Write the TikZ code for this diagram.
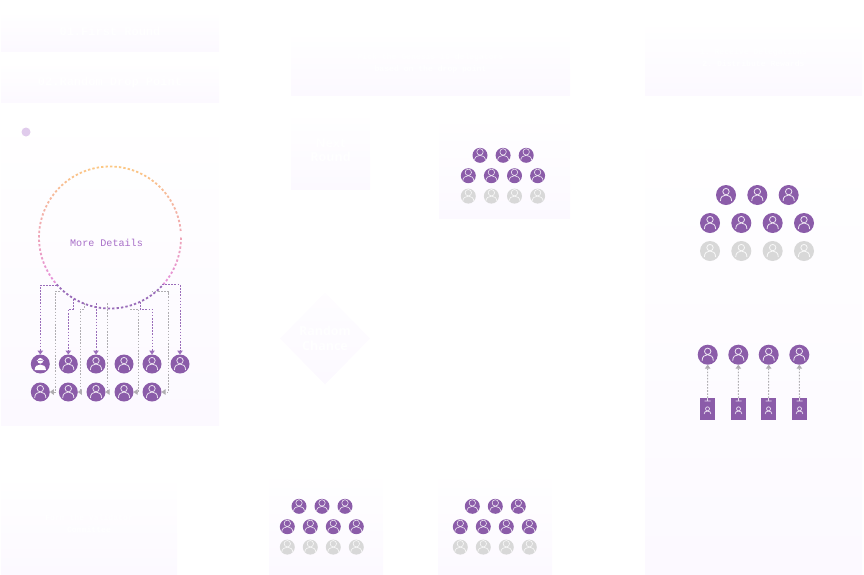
\documentclass[tikz,border=0pt]{standalone}
\usepackage{fontspec}
\setmonofont{Liberation Mono}
\setsansfont{Open Sans}
\usetikzlibrary{arrows.meta,shapes.geometric}

\definecolor{userpurple}{HTML}{8B5CA9}
\definecolor{usergray}{HTML}{D8D8D8}
\definecolor{panelend}{HTML}{FCF9FF}
\definecolor{ringorange}{HTML}{FCC784}
\definecolor{ringpink}{HTML}{E58FDC}
\definecolor{linkgray}{HTML}{B0AEB2}
\definecolor{linkpurple}{HTML}{9A6DBA}
\definecolor{labelpurple}{HTML}{A86FC8}
\definecolor{dotlilac}{HTML}{E0CBEC}
\definecolor{iconline}{HTML}{EADFF1}

\tikzset{
  panelbox/.style={rectangle,inner sep=0pt,outer sep=0pt,top color=white,bottom color=panelend,text=white,align=center},
  headtext/.style={font=\ttfamily\bfseries\fontsize{12}{14}\selectfont},
  smalltext/.style={font=\ttfamily\bfseries\fontsize{8.1}{12}\selectfont},
  bigtext/.style={font=\sffamily\bfseries\fontsize{12.5}{14.5}\selectfont},
  usernode/.style 2 args={circle,inner sep=0pt,outer sep=0pt,minimum size=20pt*#2,fill=#1,
    path picture={\draw[#1!15!white,line width=.8pt*#2,x=1pt,y=-1pt,shift={(path picture bounding box.center)},scale=#2]
      (0,-3.4) circle [radius=3.2]
      (-5.6,6) .. controls (-5.6,1.8) and (-3,0) .. (0,0) .. controls (3,0) and (5.6,1.8) .. (5.6,6);}},
  chiefnode/.style={circle,inner sep=0pt,outer sep=0pt,minimum size=19pt,fill=userpurple,
    path picture={\fill[white,x=1pt,y=-1pt,shift={(path picture bounding box.center)}]
      (0,-3.2) circle [radius=2.8]
      (-3.4,-3.8) rectangle (3.4,-3.1)
      (-5.6,6) .. controls (-5.6,2) and (-3,.6) .. (0,.6) .. controls (3,.6) and (5.6,2) .. (5.6,6) -- cycle;}},
  tagnode/.style={rectangle,inner sep=0pt,outer sep=0pt,minimum width=15pt,minimum height=22pt,fill=userpurple,
    path picture={\draw[iconline,line width=.7pt,x=1pt,y=-1pt,shift={(path picture bounding box.center)}]
      (0,-11) -- (0,-8) (-3,-8) -- (3,-8)
      (0,-.2) circle [radius=2]
      (-3.4,5) .. controls (-3.4,3) and (-2,2.1) .. (0,2.1) .. controls (2,2.1) and (3.4,3) .. (3.4,5);}},
  upath/.style={linkpurple,line width=1pt,dash pattern=on 1.6pt off 1.5pt,-{Triangle[length=4pt,width=5.5pt]}},
  gpath/.style={linkgray,line width=1pt,dash pattern=on 1.6pt off 1.5pt,-{Triangle[length=4pt,width=5.5pt]}}
}

\newcommand{\usergrid}[7]{
  \foreach \i in {0,1,2} \node[usernode={userpurple}{#7}] (#1a\i) at ({#2+\i*#4},#5) {};
  \foreach \i in {0,1,2,3} \node[usernode={userpurple}{#7}] (#1b\i) at ({#3+\i*#4},{#5+#6}) {};
  \foreach \i in {0,1,2,3} \node[usernode={usergray}{#7}] (#1c\i) at ({#3+\i*#4},{#5+2*#6}) {};
}

\begin{document}
\begin{tikzpicture}[x=1pt,y=-1pt]
  \useasboundingbox (0,0) rectangle (864,574);

  \node[panelbox,headtext,minimum width=218pt,minimum height=40pt] (firstround) at (110,31) {01.First Round};
  \node[panelbox,headtext,minimum width=218pt,minimum height=40pt] (dropoint) at (110,82) {02.Random Drop Point};
  \node[panelbox,minimum width=218pt,minimum height=315pt] (leftpanel) at (110,267.5) {};
  \node[panelbox,smalltext,minimum width=279pt,minimum height=64pt] (pickpanel) at (430.5,63) {Pick the Genesis 16 delegators\\based on the drop point};
  \node[panelbox,smalltext,minimum width=217pt,minimum height=75pt] (rewardpanel) at (753.5,57.5) {1. Receive Delegations\\2. Distribute Rewards};
  \node[panelbox,bigtext,minimum width=79pt,minimum height=78pt] (nextround) at (330.5,150) {Next\\Round};
  \node[panelbox,minimum width=131pt,minimum height=103pt] (gridone) at (504.5,166.5) {};
  \node[panelbox,minimum width=217pt,minimum height=464pt] (rightpanel) at (753.5,342) {};
  \node[panelbox,smalltext,minimum width=176pt,minimum height=100pt] (formpanel) at (89,524) {Form the Validator\\Committee};
  \node[panelbox,minimum width=114pt,minimum height=104pt] (gridtwo) at (326,522) {};
  \node[panelbox,minimum width=114pt,minimum height=104pt] (gridthree) at (495,522) {};
  \node[diamond,aspect=1,inner sep=0pt,outer sep=0pt,minimum width=90pt,minimum height=92pt,top color=panelend!40!white,bottom color=panelend,text=white,align=center,bigtext] (chance) at (325,338.5) {Random\\Chance};

  \node[circle,fill=dotlilac,inner sep=0pt,minimum size=9pt] (legenddot) at (26,132) {};

  \node[circle,inner sep=0pt,outer sep=0pt,minimum size=142pt] (ring) at (110,237.5) {};
  \foreach \a in {0,3.6,...,356.4} {
    \pgfmathsetmacro{\ringmix}{min(100,(sin(\a)+1)/1.67*100)}
    \pgfmathparse{sin(\a)>0.67 ? 1 : 0}
    \ifnum\pgfmathresult=1 \colorlet{ringdot}{linkpurple}\else \colorlet{ringdot}{ringpink!\ringmix!ringorange}\fi
    \draw[ringdot,line width=1.8pt] ([shift={(\a:71)}]110,237.5) arc [start angle=\a,delta angle=1.9,radius=71];
  }
  \node[font=\ttfamily\fontsize{10.1}{12}\selectfont,text=labelpurple,inner sep=0pt] (moredetails) at (106.5,242.5) {More Details};

  \node[chiefnode] (u1) at (40.3,364) {};
  \node[usernode={userpurple}{.95}] (u2) at (68.3,364) {};
  \node[usernode={userpurple}{.95}] (u3) at (96,364) {};
  \node[usernode={userpurple}{.95}] (u4) at (124,364) {};
  \node[usernode={userpurple}{.95}] (u5) at (152,364) {};
  \node[usernode={userpurple}{.95}] (u6) at (180,364) {};
  \node[usernode={userpurple}{.95}] (v1) at (40.3,392) {};
  \node[usernode={userpurple}{.95}] (v2) at (68.3,392) {};
  \node[usernode={userpurple}{.95}] (v3) at (96,392) {};
  \node[usernode={userpurple}{.95}] (v4) at (124,392) {};
  \node[usernode={userpurple}{.95}] (v5) at (152,392) {};

  \coordinate (p1) at (57,285);
  \coordinate (p2) at (73,299);
  \coordinate (p2b) at (68.3,309);
  \coordinate (p3) at (96,303);
  \coordinate (p5) at (140,302);
  \coordinate (p5b) at (152,309);
  \coordinate (p6) at (162,284.5);
  \draw[upath] (p1) -| (u1.north);
  \draw[upath] (p2) |- (p2b) -- (u2.north);
  \draw[upath] (p3) -- (u3.north);
  \draw[upath] (p5) |- (p5b) -- (u5.north);
  \draw[upath] (p6) -| (u6.north);

  \coordinate (g1) at (60,291);
  \coordinate (g1b) at (55.7,291);
  \coordinate (g2) at (84,303);
  \coordinate (g2b) at (80,309);
  \coordinate (g3) at (107.3,303);
  \coordinate (g4) at (130,309);
  \coordinate (g4b) at (138.7,309);
  \coordinate (g5) at (151.7,291.7);
  \coordinate (g5b) at (168.7,291.7);
  \draw[gpath] (g1) -- (g1b) |- (v1.east);
  \draw[gpath] (g2) |- (g2b) |- (v2.east);
  \draw[gpath] (g3) |- (v3.east);
  \draw[gpath] (g4) -- (g4b) |- (v4.east);
  \draw[gpath] (g5) -- (g5b) |- (v5.east);

  \usergrid{ga}{480}{468.3}{23.1}{155.3}{20.4}{.75}
  \usergrid{gb}{299}{287.3}{23}{506.3}{20.4}{.75}
  \usergrid{gc}{472.3}{460.3}{23}{506.3}{20.4}{.75}
  \usergrid{gd}{726}{710}{31.33}{195}{28}{1}

  \foreach \i/\ux/\tx in {1/707.7/707.5,2/738.3/738.5,3/768.7/768.5,4/799.3/799.5} {
    \node[usernode={userpurple}{1}] (w\i) at (\ux,354.7) {};
    \node[tagnode] (t\i) at (\tx,409) {};
    \draw[gpath] (t\i.north) -- (w\i.south);
  }
\end{tikzpicture}
\end{document}
